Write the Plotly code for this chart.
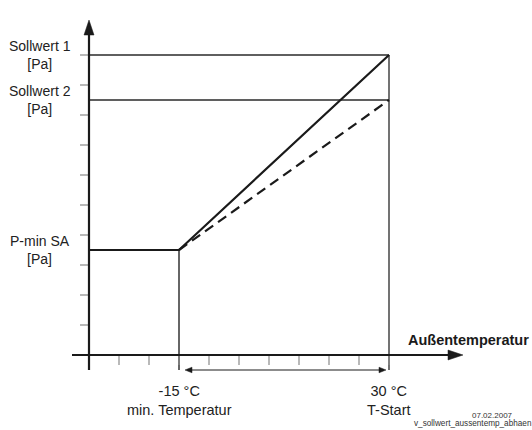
import plotly.graph_objects as go

# Schematic units: one tick step on each axis
PX = 30.0                      # pixels per tick step
X0_PX, Y0_PX = 89, 355         # origin position on the page
W, H = 532, 430

# Tick positions along both axes
x_ticks = list(range(1, 11))
y_ticks = list(range(1, 11))

# Temperature marks (position on the x axis, label)
t_pos = [3, 10]
t_labels = ["-15 °C<br>min. Temperatur", "30 °C<br>T-Start"]

# Pressure set points (position on the y axis, label)
p_vals = [10, 8.5, 3.5]
p_labels = ["Sollwert 1<br>[Pa]", "Sollwert 2<br>[Pa]", "P-min SA<br>[Pa]"]

# Characteristic curves
curve1_x = [0, 3, 10]
curve1_y = [3.5, 3.5, 10]
curve2_x = [3, 10]
curve2_y = [3.5, 8.5]

x_range = [-X0_PX / PX, (W - X0_PX) / PX]
y_range = [(Y0_PX - H) / PX, Y0_PX / PX]


def px(v):
    return v / PX


fig = go.Figure()

# Set point lines
fig.add_trace(go.Scatter(x=[0, t_pos[1]], y=[p_vals[0]] * 2, mode="lines",
                         line=dict(color="#2a2a2a", width=1.7), hoverinfo="skip"))
fig.add_trace(go.Scatter(x=[0, t_pos[1]], y=[p_vals[1]] * 2, mode="lines",
                         line=dict(color="#2a2a2a", width=1.7), hoverinfo="skip"))
# Vertical guides
fig.add_trace(go.Scatter(x=[t_pos[1]] * 2, y=[-0.5, p_vals[0]], mode="lines",
                         line=dict(color="#444444", width=1.5), hoverinfo="skip"))
fig.add_trace(go.Scatter(x=[t_pos[0]] * 2, y=[-0.5, p_vals[2]], mode="lines",
                         line=dict(color="#333333", width=1.5), hoverinfo="skip"))
# Curves
fig.add_trace(go.Scatter(x=curve1_x, y=curve1_y, mode="lines",
                         line=dict(color="#1a1a1a", width=2.2), hoverinfo="skip"))
fig.add_trace(go.Scatter(x=curve2_x, y=curve2_y, mode="lines",
                         line=dict(color="#1a1a1a", width=2.2, dash="10px,6px"),
                         hoverinfo="skip"))

shapes = []
tick_col = "#8a8a8a"
for t in x_ticks:
    shapes.append(dict(type="line", x0=t, x1=t, y0=0, y1=-px(10),
                       line=dict(color=tick_col, width=1.2)))
for t in y_ticks:
    shapes.append(dict(type="line", x0=-px(9), x1=0, y0=t, y1=t,
                       line=dict(color=tick_col, width=1.2)))

# Axes
ax_col = "#1a1a1a"
x_tip = px(463 - X0_PX)
y_tip = px(Y0_PX - 20)
shapes.append(dict(type="line", x0=-px(17), x1=x_tip - px(10), y0=0, y1=0,
                   line=dict(color=ax_col, width=2.2)))
shapes.append(dict(type="line", x0=0, x1=0, y0=-px(15), y1=y_tip - px(10),
                   line=dict(color=ax_col, width=2.2)))


def tri(tip_x, tip_y, dx, dy, length, half):
    # filled arrow head pointing in direction (dx, dy)
    bx, by = tip_x - dx * length, tip_y - dy * length
    nx, ny = -dy * half, dx * half
    return dict(type="path",
                path=f"M {tip_x},{tip_y} L {bx + nx},{by + ny} L {bx - nx},{by - ny} Z",
                fillcolor=ax_col, line=dict(color=ax_col, width=0.5))


shapes.append(tri(x_tip, 0, 1, 0, px(15), px(5)))
shapes.append(tri(0, y_tip, 0, 1, px(15), px(5)))

# Range arrow between the two temperatures
ra_y = -0.5
ra_l = px(185 - X0_PX)
ra_r = px(386 - X0_PX)
shapes.append(dict(type="line", x0=ra_l + px(5), x1=ra_r - px(5), y0=ra_y, y1=ra_y,
                   line=dict(color=ax_col, width=1)))
shapes.append(tri(ra_l, ra_y, -1, 0, px(7), px(2.8)))
shapes.append(tri(ra_r, ra_y, 1, 0, px(7), px(2.8)))

font = "Liberation Sans, Arial, sans-serif"
ann = []
for v, lab in zip(p_vals, p_labels):
    ann.append(dict(x=px(39.5 - X0_PX), y=v, text=lab, showarrow=False,
                    xanchor="center", yanchor="middle",
                    font=dict(family=font, size=14, color="#222222")))
for t, lab in zip(t_pos, t_labels):
    ann.append(dict(x=t, y=-1.5, text=lab, showarrow=False,
                    xanchor="center", yanchor="middle",
                    font=dict(family=font, size=14.5, color="#222222")))
ann.append(dict(x=px(531 - X0_PX), y=0.5, text="<b>Außentemperatur</b>", showarrow=False,
                xanchor="right", yanchor="middle",
                font=dict(family=font, size=14.5, color="#1a1a1a")))
ann.append(dict(x=px(492.5 - X0_PX), y=px(Y0_PX - 415), text="07.02.2007", showarrow=False,
                xanchor="center", yanchor="middle",
                font=dict(family=font, size=8, color="#333333")))
ann.append(dict(x=px(412 - X0_PX), y=px(Y0_PX - 423), text="v_sollwert_aussentemp_abhaen",
                showarrow=False, xanchor="left", yanchor="middle",
                font=dict(family=font, size=8.2, color="#333333")))

fig.update_layout(
    width=W, height=H,
    margin=dict(l=0, r=0, t=0, b=0, pad=0),
    paper_bgcolor="white", plot_bgcolor="white",
    showlegend=False,
    xaxis=dict(range=x_range, visible=False, fixedrange=True),
    yaxis=dict(range=y_range, visible=False, fixedrange=True),
    shapes=shapes,
    annotations=ann,
)

fig.write_html("out.html")
